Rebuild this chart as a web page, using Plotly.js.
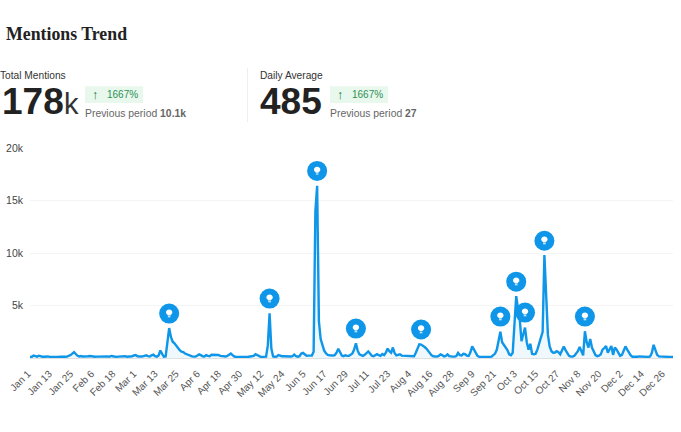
<!DOCTYPE html>
<html>
<head>
<meta charset="utf-8">
<script src="https://cdn.plot.ly/plotly-3.0.1.min.js"></script>
<style>html,body{margin:0;padding:0;background:#fff;overflow:hidden}#chart{width:681px;height:432px}</style>
</head>
<body>
<div id="chart"></div>
<script>
// Daily mentions by month, 2024
const jan = [120,110,240,190,130,220,160,120,120,170,150,120,110,130,150,120,110,130,150,130,120,130,180,280,420,560,380,210,150,190,140];
const feb = [130,120,170,190,150,130,120,130,140,120,110,130,190,150,120,200,170,120,110,130,140,160,220,170,120,130,140,170,240];
const mar = [280,170,130,140,150,180,250,180,140,260,330,170,130,250,720,400,130,150,1500,2850,2000,1550,1400,1150,950,750,600,560,430,360,280];
const apr = [190,150,130,140,230,340,270,160,150,280,200,170,310,320,300,330,290,200,170,160,150,190,300,430,280,140,110,100,100,100];
const may = [100,100,110,120,140,130,200,360,280,150,110,110,120,130,1200,4250,900,150,120,130,280,210,170,170,150,130,130,140,180,320,180];
const jun = [130,180,420,480,380,220,230,220,230,600,14000,16400,3500,1800,1100,700,450,300,260,230,240,280,500,880,500,230,180,260,200,210];
const jul = [300,430,800,1400,700,350,280,200,300,470,620,420,220,170,300,370,270,200,380,280,500,900,650,500,1000,450,250,280,350,230,220];
const aug = [180,190,220,170,150,160,500,1000,1300,1280,1200,1050,900,650,420,250,160,130,130,200,340,280,150,200,350,180,130,130,130,180,480];
const sep = [280,250,400,360,220,200,550,1100,800,450,200,120,110,110,110,110,110,110,130,300,420,800,1500,2500,1500,1250,1000,750,350,270];
const oct = [500,3000,5900,4700,3700,1600,2400,2900,1500,800,1350,400,350,400,800,1300,1800,2500,9800,6000,2200,1100,650,500,520,650,550,350,800,1100,750];
const nov = [400,200,130,130,220,400,650,1050,700,250,2550,1500,1000,1800,1000,700,280,180,220,350,800,950,1150,500,900,1150,300,1000,800,500];
const dec = [200,300,650,1100,800,450,250,120,100,100,120,150,130,110,100,100,110,150,500,1250,750,300,150,130,130,120,110,110,100,100,100];
const mentions = [].concat(jan,feb,mar,apr,may,jun,jul,aug,sep,oct,nov,dec);

// Insight markers
const eventDates = ["2024-03-20","2024-05-16","2024-06-12","2024-07-04","2024-08-10","2024-09-24","2024-10-03","2024-10-08","2024-10-19","2024-11-11"];
const eventLevels = [4230,5656,17820,2800,2710,3945,7270,4325,11170,3945];

const yTickVals = [5000,10000,15000,20000];
const yTickText = ["5k","10k","15k","20k"];

const titleText = "Mentions Trend";
const kpiLabels = ["Total Mentions","Daily Average"];
const kpiValues = ["178","485"];
const kpiSuffix = ["k",""];
const kpiChange = ["1667%","1667%"];
const kpiPrevious = ["Previous period <b>10.1k</b>","Previous period <b>27</b>"];

const BLUE = "#0f96e8";
const L = 30, R = 673, T = 148, B = 358.5;
const px = x => (x - L) / (R - L);
const py = y => (B - y) / (B - T);

const dates = mentions.map((_, i) => new Date(Date.UTC(2024, 0, 1 + i)).toISOString().slice(0, 10));

const note = (x, y, text, font, extra) => Object.assign({
  xref: "paper", yref: "paper", x: px(x), y: py(y), text: text,
  showarrow: false, xanchor: "left", yanchor: "middle", borderpad: 0, align: "left",
  font: Object.assign({family: "Liberation Sans, Arial, sans-serif"}, font)
}, extra || {});

const annotations = [
  note(5, 34, "<b>" + titleText + "</b>", {family: "Liberation Serif, serif", size: 17.8, color: "#222"})
];
const shapes = [{
  type: "line", xref: "paper", yref: "paper", x0: px(247.5), x1: px(247.5), y0: py(68), y1: py(122),
  line: {color: "#eeeeee", width: 1}
}];

const KX = [-1, 259], VX = [1, 259], SX = [62.5, 0], BX = [85, 330], BW = 58;
kpiLabels.forEach((lab, i) => {
  annotations.push(note(KX[i], 75, lab, {size: 10.2, color: "#333"}));
  annotations.push(note(VX[i], 101.5, "<b>" + kpiValues[i] + "</b>", {size: 37, color: "#222"}));
  if (kpiSuffix[i]) annotations.push(note(SX[i], 104, kpiSuffix[i], {size: 29, color: "#333"}));
  const bx = BX[i];
  shapes.push({type: "rect", xref: "paper", yref: "paper", x0: px(bx), x1: px(bx + BW), y0: py(86), y1: py(103),
    fillcolor: "#e8f8ec", line: {width: 0}, layer: "below"});
  annotations.push(note(bx + 6, 94.5, "\u2191", {size: 12.5, color: "#1f7a45"}));
  annotations.push(note(bx + 20.5, 94.5, kpiChange[i], {size: 10, color: "#2f8f56"}));
  annotations.push(note(bx - 1, 113, kpiPrevious[i], {size: 10.4, color: "#666"}));
});

// Lightbulb glyph drawn in pixels, anchored on each marker
const bulb = "M-3.2,1.2 C-3.2,-0.6 -1.5,-0.8 -1.3,-1.8 L1.3,-1.8 C1.5,-0.8 3.2,-0.6 3.2,1.2 C3.2,5.2 -3.2,5.2 -3.2,1.2 Z " +
             "M-1.3,-2.6 L1.3,-2.6 L1.3,-3.6 L-1.3,-3.6 Z";
eventDates.forEach((d, i) => {
  shapes.push({
    type: "path", xref: "x", yref: "y", xsizemode: "pixel", ysizemode: "pixel",
    xanchor: d, yanchor: eventLevels[i], path: bulb,
    fillcolor: "#ffffff", line: {width: 0}, layer: "above"
  });
});

const traces = [
  {
    x: dates, y: mentions, type: "scatter", mode: "lines",
    line: {color: BLUE, width: 2.4}, fill: "tozeroy", fillcolor: "rgba(15,150,232,0.07)",
    hoverinfo: "skip", showlegend: false
  },
  {
    x: eventDates, y: eventLevels, type: "scatter", mode: "markers",
    marker: {size: 20, color: BLUE, line: {width: 0}}, cliponaxis: false,
    hoverinfo: "skip", showlegend: false
  }
];

const layout = {
  width: 681, height: 432,
  margin: {l: L, r: 681 - R, t: T, b: 432 - B, pad: 0},
  paper_bgcolor: "#fff", plot_bgcolor: "#fff",
  showlegend: false,
  font: {family: "Liberation Sans, Arial, sans-serif", size: 10, color: "#444"},
  xaxis: {
    type: "date", range: ["2024-01-01", "2024-12-31"],
    tick0: "2024-01-01", dtick: 12 * 86400000, tickformat: "%b %-d",
    tickangle: -45, ticks: "", showgrid: false, zeroline: false, showline: false,
    tickfont: {size: 10, color: "#555"}, automargin: false,
    ticklabelstandoff: 7, ticklabelshift: -2
  },
  yaxis: {
    range: [0, 20000], tickmode: "array", tickvals: yTickVals, ticktext: yTickText,
    ticks: "", gridcolor: "#f4f4f4", gridwidth: 1, zeroline: true, zerolinecolor: "#e0e0e0", zerolinewidth: 1,
    showline: false, tickfont: {size: 10.5, color: "#444"}, automargin: false,
    ticklabelstandoff: 6
  },
  annotations: annotations,
  shapes: shapes
};

Plotly.newPlot("chart", traces, layout, {displayModeBar: false, responsive: false});
</script>
</body>
</html>
